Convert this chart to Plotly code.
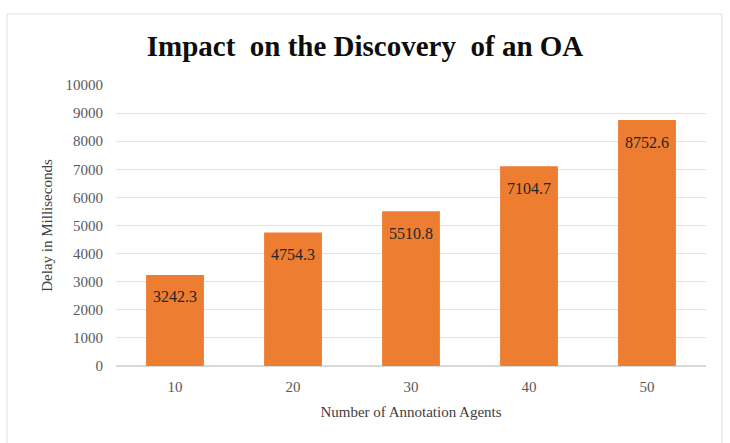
import plotly.graph_objects as go

categories = ["10", "20", "30", "40", "50"]
delays = [3242.3, 4754.3, 5510.8, 7104.7, 8752.6]
y_ticks = list(range(0, 10001, 1000))
y_tick_labels = [str(v) for v in y_ticks]

L, R, T, B = 116, 24, 85, 77
W, H = 730, 443
pw, ph = W - L - R, H - T - B

def px(x):
    return (x - L) / pw

def py(y):
    return (H - B - y) / ph

fig = go.Figure(go.Bar(
    x=categories, y=delays,
    marker=dict(color="#ED7D31", line=dict(width=0)),
    hoverinfo="x+y",
))

for i, v in enumerate(delays):
    fig.add_annotation(x=i, y=v, xref="x", yref="y", text=f"{v:.1f}",
                       showarrow=False, yanchor="middle", yshift=-22,
                       font=dict(family="Liberation Serif", size=16, color="#262626"))

fig.update_layout(
    width=W, height=H,
    margin=dict(l=L, r=R, t=T, b=B),
    paper_bgcolor="white", plot_bgcolor="white",
    bargap=0.51,
    showlegend=False,
    title=dict(text="<b>Impact  on the Discovery  of an OA</b>",
               x=0.5, xanchor="center", y=1 - 46 / H, yanchor="middle",
               font=dict(family="Liberation Serif", size=29, color="#0d0d0d")),
    xaxis=dict(
        type="category", range=[-0.5, len(categories) - 0.5],
        showgrid=False, showline=False, ticks="",
        ticklabelstandoff=10,
        tickfont=dict(family="Liberation Serif", size=15, color="#595959"),
        title=dict(text="Number of Annotation Agents", standoff=12,
                   font=dict(family="Liberation Serif", size=15, color="#404040")),
    ),
    yaxis=dict(
        range=[0, 10000], tickvals=y_ticks, ticktext=y_tick_labels,
        showgrid=True, gridcolor="#e4e4e4", gridwidth=1,
        zeroline=True, zerolinecolor="#d9d9d9",
        showline=False, ticks="",
        ticklabelstandoff=12,
        tickfont=dict(family="Liberation Serif", size=15, color="#595959"),
        title=dict(text="Delay in Milliseconds", standoff=9,
                   font=dict(family="Liberation Serif", size=15, color="#404040")),
    ),
    shapes=[dict(type="rect", xref="paper", yref="paper",
                 x0=px(7), x1=px(722), y0=py(448), y1=py(14),
                 line=dict(color="#e0e0e0", width=1), layer="below")],
)

fig.write_html("out.html")
